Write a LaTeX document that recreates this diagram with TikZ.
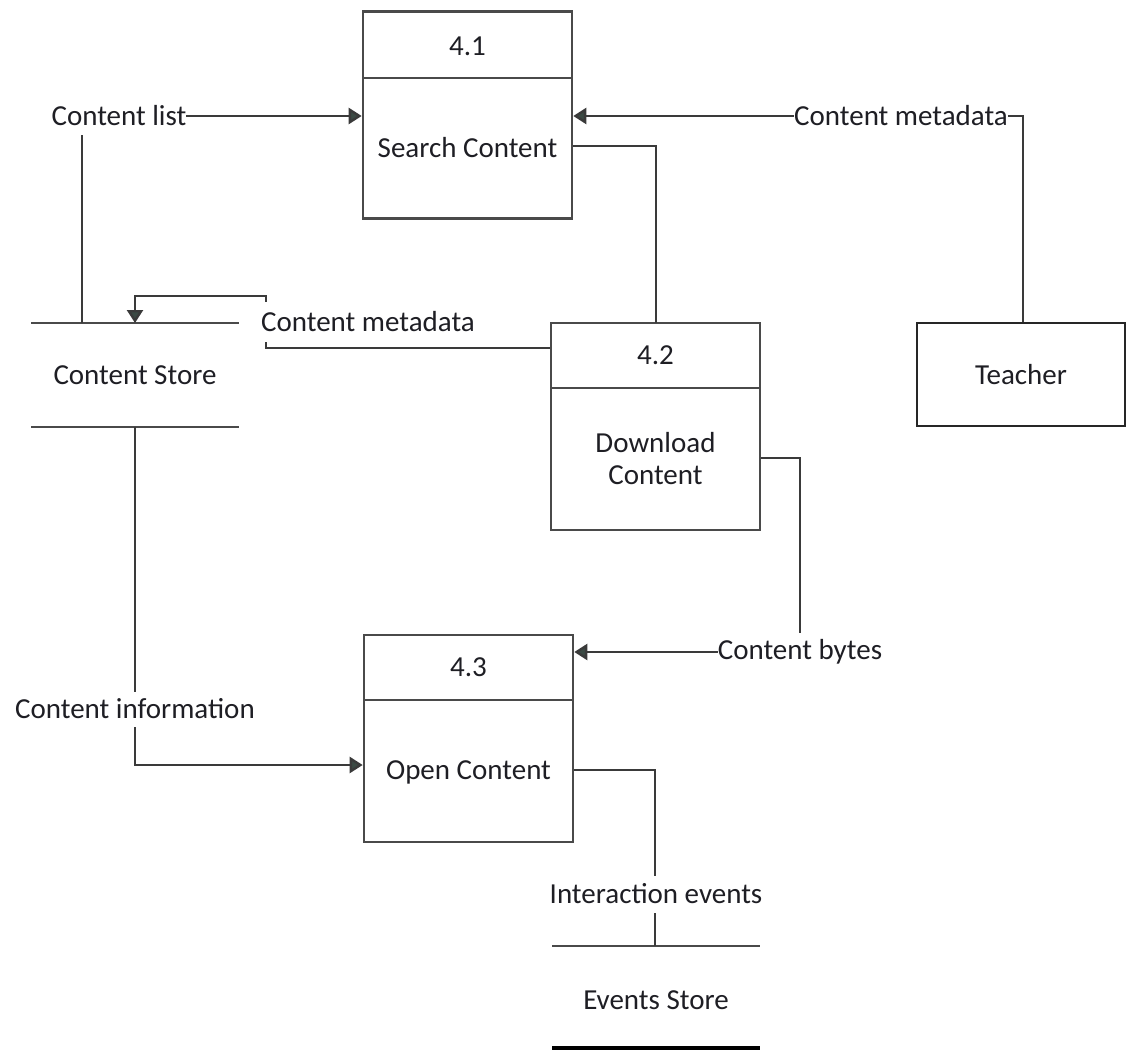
\documentclass[tikz,border=0pt]{standalone}
\usepackage{fontspec}
\setmainfont{Carlito}
\usetikzlibrary{arrows.meta}
\definecolor{linegray}{HTML}{3A3A3A}
\definecolor{boxgray}{HTML}{4A4A4A}
\definecolor{tipgreen}{HTML}{3B4A44}
\definecolor{txt}{HTML}{1E1E24}
\begin{document}
\begin{tikzpicture}[x=1pt,y=-1pt,
  every node/.style={font=\fontsize{29}{32}\selectfont, text=txt},
  procbox/.style={draw=boxgray, line width=2.6pt, minimum width=209pt, minimum height=207pt, inner sep=0pt},
  entity/.style={draw=black!85, line width=2.8pt, minimum width=208pt, minimum height=103pt, inner sep=0pt},
  flow/.style={draw=linegray, line width=2.4pt},
  arrowflow/.style={flow, -{Triangle[length=13pt, width=16pt, fill=tipgreen]}},
  flowlabel/.style={fill=white, inner sep=0pt, minimum height=38pt},
  storeline/.style={draw=boxgray, line width=2.6pt},
  plain/.style={inner sep=0pt}
]
\useasboundingbox (0,0) rectangle (1127,1051);

% processes
\node[procbox] (p1) at (467.5,115) {};
\draw[storeline] (362,78) -- (573,78);
\node[plain] (p1n) at (467.5,46) {4.1};
\node[plain] (p1t) at (467.5,148) {Search Content};

\node[procbox] (p2) at (655.5,426.5) {};
\draw[storeline] (551,388) -- (760,388);
\node[plain] (p2n) at (655.5,355) {4.2};
\node[plain, align=center] (p2t) at (655.5,459) {Download\\Content};

\node[procbox] (p3) at (468.5,738.5) {};
\draw[storeline] (364,700) -- (573,700);
\node[plain] (p3n) at (468.5,667) {4.3};
\node[plain] (p3t) at (468.5,772) {Open Content};

% external entity
\node[entity] (teacher) at (1021,374.5) {Teacher};

% data stores
\coordinate (csTL) at (31,323);
\coordinate (csTR) at (239,323);
\coordinate (csBL) at (31,427);
\coordinate (csBR) at (239,427);
\draw[storeline] (csTL) -- (csTR);
\draw[storeline] (csBL) -- (csBR);
\node[plain] (cs) at (135,375) {Content Store};

\coordinate (esTL) at (552,946);
\coordinate (esTR) at (760,946);
\coordinate (esBL) at (552,1048);
\coordinate (esBR) at (760,1048);
\draw[storeline] (esTL) -- (esTR);
\draw[draw=black, line width=3.2pt] (esBL) -- (esBR);
\node[plain] (es) at (656,1000) {Events Store};

% data flows
\draw[arrowflow] (82,323) -- (82,116) -- (p1.west |- 0,116);
\node[flowlabel] (lblList) at (119,116) {Content list};

\draw[arrowflow] (teacher.north -| 1023,0) -- (1023,116) -- (p1.east |- 0,116);
\node[flowlabel] (lblMetaTop) at (901,116) {Content metadata};

\draw[flow] (p1.east |- 0,146) -- (656,146) -- (656,323);

\draw[arrowflow] (p2.west |- 0,348) -- (266,348) -- (266,296) -- (135,296) -- (135,323);
\node[flowlabel, anchor=west, minimum height=40pt] (lblMetaMid) at (261,322) {Content metadata};

\draw[arrowflow] (p2.east |- 0,458) -- (800,458) -- (800,652) -- (p3.east |- 0,652);
\node[flowlabel] (lblBytes) at (800,652) {Content bytes};

\draw[arrowflow] (135,427) -- (135,765) -- (p3.west |- 0,765);
\node[flowlabel, minimum height=35pt] (lblInfo) at (135,709) {Content information};

\draw[flow] (p3.east |- 0,770) -- (655,770) -- (655,946);
\node[flowlabel, minimum height=37pt] (lblEvents) at (656,894) {Interaction events};
\end{tikzpicture}
\end{document}
